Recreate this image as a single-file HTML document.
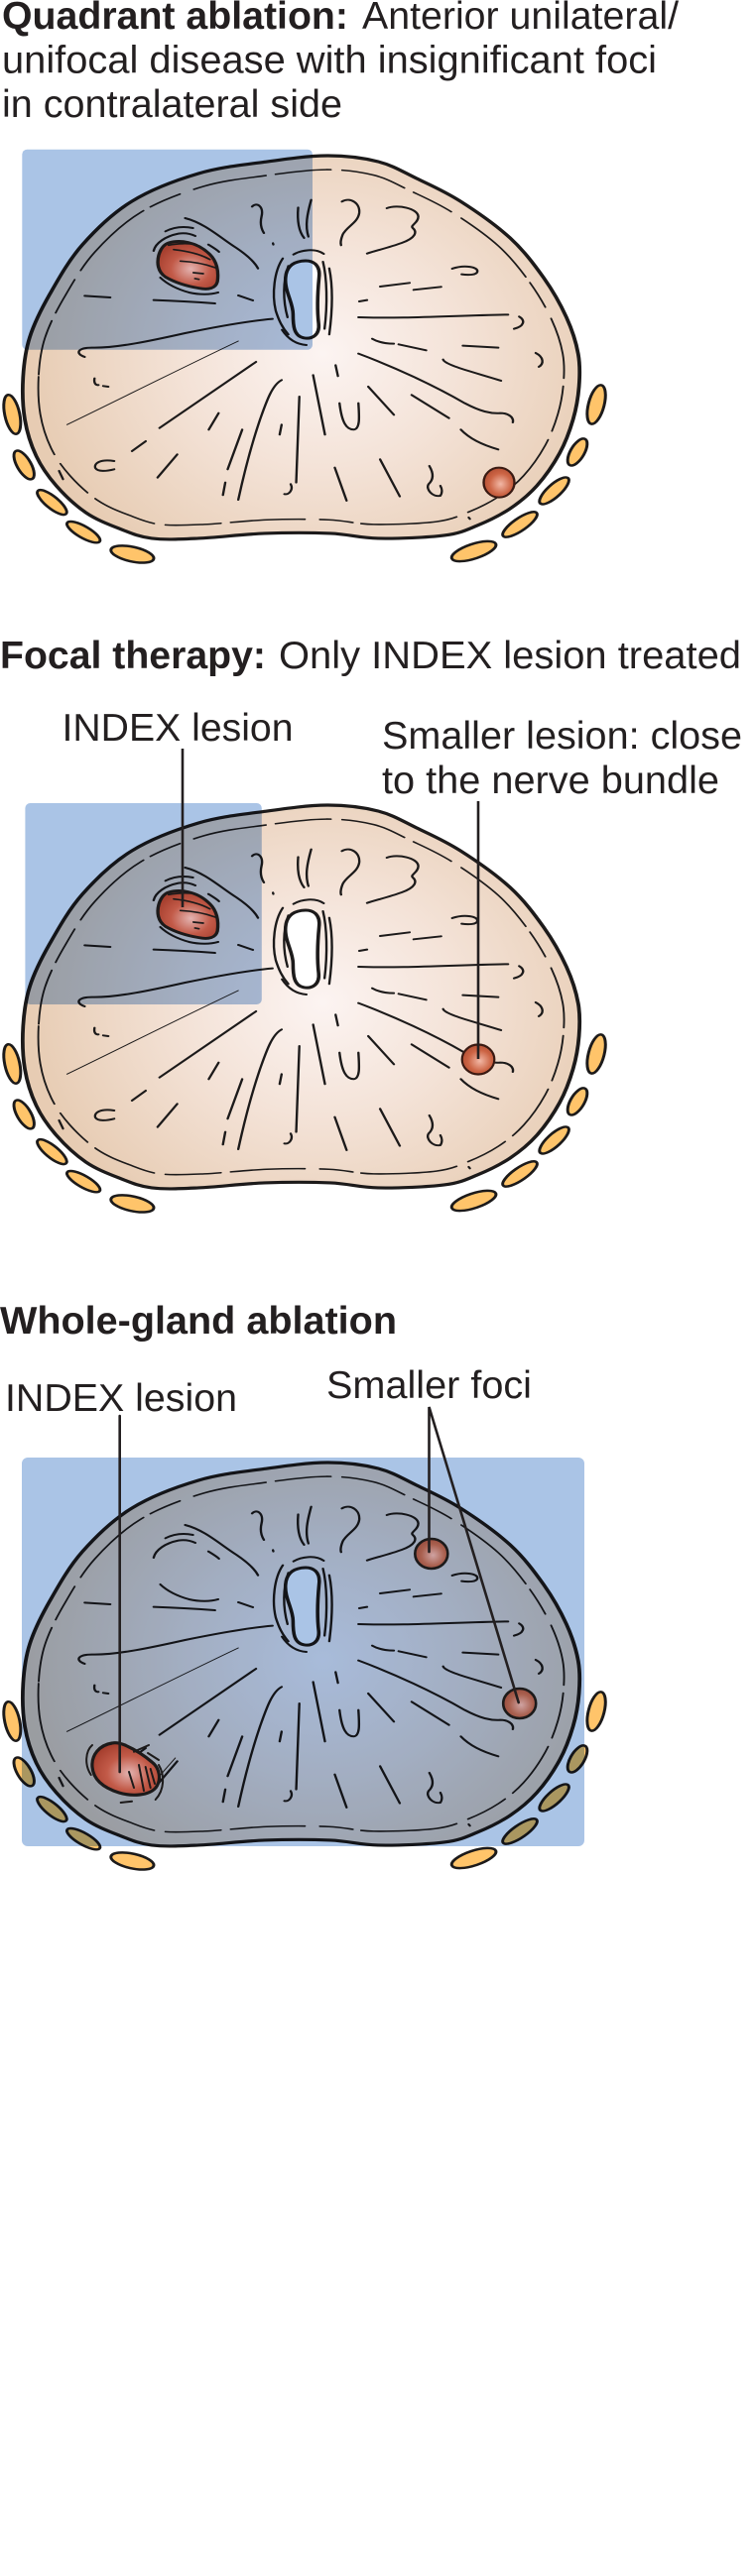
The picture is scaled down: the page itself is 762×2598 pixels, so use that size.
<!DOCTYPE html>
<html>
<head>
<meta charset="utf-8">
<style>
  html,body{margin:0;padding:0;background:#fff;}
  svg{display:block;}
  text{font-family:"Liberation Sans",Arial,sans-serif;fill:#231F20;}
</style>
</head>
<body>
<svg width="762" height="2598" viewBox="0 0 762 2598" xmlns="http://www.w3.org/2000/svg">
<defs>
  <radialGradient id="pg" gradientUnits="userSpaceOnUse" cx="820" cy="650" r="760">
    <stop offset="0" stop-color="#FCF4F2"/>
    <stop offset="0.45" stop-color="#F4E3D8"/>
    <stop offset="1" stop-color="#E7CCB3"/>
  </radialGradient>
  <radialGradient id="lg" cx="0.55" cy="0.58" r="0.6">
    <stop offset="0" stop-color="#E3B3B0"/>
    <stop offset="0.55" stop-color="#C25A48"/>
    <stop offset="1" stop-color="#A63F2E"/>
  </radialGradient>
  <radialGradient id="sg" cx="0.55" cy="0.55" r="0.6">
    <stop offset="0" stop-color="#F2B8A6"/>
    <stop offset="0.6" stop-color="#CC6444"/>
    <stop offset="1" stop-color="#B14E33"/>
  </radialGradient>
  <radialGradient id="fg" cx="0.55" cy="0.55" r="0.6">
    <stop offset="0" stop-color="#CFA3A2"/>
    <stop offset="0.6" stop-color="#A9604F"/>
    <stop offset="1" stop-color="#96493B"/>
  </radialGradient>

  <path id="outline" d="M58.7,720 C60.8,678.5 64.4,641.5 75.6,600 C86.8,558.5 103.8,517.5 126,471 C148.2,424.5 174.2,368 209,321 C243.8,274 285.8,225 335,189 C384.2,153 447.8,124.8 504,105 C560.2,85.2 617.5,79 672,70 C726.5,60.8 783,51.2 831,51 C879,50.8 922.2,57.5 960,69 C997.8,80.5 1023.2,100 1058,120 C1092.8,140 1129.5,159 1169,189 C1208.5,219 1259.8,261.5 1295,300 C1330.2,338.5 1356.2,380 1380,420 C1403.8,460 1423.3,501.5 1438,540 C1452.7,578.5 1462.7,616 1468,651 C1473.3,686 1472.2,717 1470,750 C1467.8,783 1463.2,815.5 1455,849 C1446.8,882.5 1436.3,917.5 1421,951 C1405.7,984.5 1384,1022 1363,1050 C1342,1078 1320.2,1099 1295,1119 C1269.8,1139 1239.8,1156.5 1212,1170 C1184.2,1183.5 1170,1193.5 1128,1200 C1086,1206.5 1008.2,1210 960,1209 C911.8,1208 887,1196.5 839,1194 C791,1191.5 727.8,1191.5 672,1194 C616.2,1196.5 551.8,1206.5 504,1209 C456.2,1211.5 418.7,1214 385,1209 C351.3,1204 329.8,1192 302,1179 C274.2,1166 244.5,1152.5 218,1131 C191.5,1109.5 164,1078.5 143,1050 C122,1021.5 105.3,993.5 92,960 C78.7,926.5 68.6,889 63,849 C57.4,809 56.6,761.5 58.7,720 Z"/>

  <g id="pro">
    <!-- lipid ovals -->
    <g fill="#FFC46A" stroke="#1C1A1A" stroke-width="7.5">
      <ellipse cx="31" cy="834" rx="19" ry="60" transform="rotate(-10 31 834)"/>
      <ellipse cx="61" cy="987" rx="18" ry="47" transform="rotate(-25 61 987)"/>
      <ellipse cx="132" cy="1100" rx="17" ry="50" transform="rotate(-45 132 1100)"/>
      <ellipse cx="212" cy="1190" rx="17" ry="50" transform="rotate(-55 212 1190)"/>
      <ellipse cx="336" cy="1257" rx="56" ry="22" transform="rotate(15 336 1257)"/>
      <ellipse cx="1514" cy="804" rx="20" ry="60" transform="rotate(12 1514 804)"/>
      <ellipse cx="1466" cy="948" rx="18" ry="44" transform="rotate(25 1466 948)"/>
      <ellipse cx="1407" cy="1065" rx="18" ry="52" transform="rotate(42 1407 1065)"/>
      <ellipse cx="1320" cy="1167" rx="18" ry="55" transform="rotate(50 1320 1167)"/>
      <ellipse cx="1203" cy="1248" rx="60" ry="22" transform="rotate(-22 1203 1248)"/>
    </g>
    <!-- gland body -->
    <use href="#outline" fill="url(#pg)" stroke="#1C1A1A" stroke-width="9.5"/>
    <!-- inner capsule line -->
    <g transform="translate(764,630) scale(0.944,0.927) translate(-764,-630)">
      <use href="#outline" fill="none" stroke="#1C1A1A" stroke-width="5" stroke-dasharray="180 28 120 34 260 22 90 40 200 26 150 30" stroke-linecap="round"/>
    </g>
    <!-- internal strokes -->
    <g fill="none" stroke="#1C1A1A" stroke-width="6" stroke-linecap="round">
      <path d="M640,205 C652,190 670,205 664,235 C660,255 662,270 670,285"/>
      <path d="M757,208 C754,250 760,282 772,300"/>
      <path d="M790,185 C780,228 774,262 783,296"/>
      <path d="M470,240 C520,255 560,300 600,330 C625,350 645,370 655,392"/>
      <path d="M529,320 C540,328 550,335 556,342"/>
      <path d="M390,339 C395,315 420,295 453,287 C470,284 485,288 496,294"/>
      <path d="M420,280 C440,268 465,264 490,270"/>
      <path d="M407,420 C425,440 450,455 480,465 C505,472 535,472 554,465"/>
      <path d="M390,488 C440,490 500,494 546,498"/>
      <path d="M215,475 L280,480"/>
      <path d="M605,474 L642,489"/>
      <path d="M215,660 C190,650 195,630 240,632 C300,632 380,612 470,588 C560,566 640,550 692,545"/>
      <path d="M868,190 C890,175 915,195 912,225 C908,255 880,265 870,290 C865,305 864,315 866,322"/>
      <path d="M982,210 C1010,198 1060,210 1062,235 C1062,255 1040,262 1048,270 C1060,282 1055,300 1020,315 C990,328 955,338 932,347"/>
      <path d="M1148,393 C1180,380 1215,388 1212,402 C1210,412 1190,413 1172,410"/>
      <path d="M965,447 L1040,436"/>
      <path d="M1050,457 L1120,448"/>
      <path d="M912,492 L932,488"/>
      <path d="M910,540 C1020,545 1150,535 1290,532"/>
      <path d="M1318,538 C1335,550 1330,568 1305,575"/>
      <path d="M945,605 C960,615 980,620 1000,620"/>
      <path d="M1012,622 L1082,640"/>
      <path d="M1175,626 L1265,632"/>
      <path d="M1360,648 C1380,660 1382,680 1368,690"/>
      <path d="M910,650 C1000,690 1100,745 1180,800 C1220,825 1245,832 1270,830 C1290,830 1305,842 1302,858"/>
      <path d="M1125,668 C1130,685 1200,705 1272,732"/>
      <path d="M1045,775 L1140,845"/>
      <path d="M1170,880 C1190,905 1220,925 1265,940"/>
      <path d="M935,750 L1000,835"/>
      <path d="M852,685 L858,718"/>
      <path d="M862,800 C868,860 880,880 898,880 C915,878 912,840 910,800"/>
      <path d="M850,995 L880,1095"/>
      <path d="M965,970 L1015,1082"/>
      <path d="M1090,990 C1100,1010 1102,1030 1088,1045 C1080,1060 1098,1085 1118,1080 C1124,1070 1122,1058 1118,1050"/>
      <path d="M605,612 C450,700 300,790 170,865" stroke-width="2.8"/>
      <path d="M650,675 L405,875"/>
      <path d="M555,830 L530,880"/>
      <path d="M715,730 C690,745 675,800 660,850 C640,920 620,1010 605,1092"/>
      <path d="M760,780 L752,1040"/>
      <path d="M795,715 L825,895"/>
      <path d="M615,880 L578,1000"/>
      <path d="M715,865 L710,895"/>
      <path d="M738,1045 C745,1060 735,1078 722,1075"/>
      <path d="M572,1040 L566,1078"/>
      <path d="M450,955 L400,1025"/>
      <path d="M370,915 L335,945"/>
      <path d="M290,975 C255,968 238,982 242,996 C248,1008 270,1006 290,1000"/>
      <path d="M240,725 C238,738 242,746 250,745"/>
      <path d="M262,748 L275,750"/>
      <path d="M150,1005 L160,1030"/>
      <path d="M1190,1146 L1193,1150"/>
      <path d="M693,316 L694,320"/>
    </g>
    <!-- urethra -->
    <g fill="none" stroke="#1C1A1A" stroke-width="6" stroke-linecap="round">
      <path d="M745,350 C765,336 800,330 822,348"/>
      <path d="M718,362 C696,400 690,470 700,520 C708,550 716,570 732,592"/>
      <path d="M732,385 C718,430 718,490 730,540"/>
      <path d="M820,372 C830,420 832,500 824,575"/>
      <path d="M836,392 C846,450 844,520 836,592"/>
      <path d="M716,578 C732,607 752,622 778,624"/>
    </g>
    <path d="M765,370 C797,364 814,384 810,420 C806,470 805,520 809,560 C812,594 792,608 770,602 C746,596 744,566 744,530 C744,495 722,460 725,420 C727,388 743,374 765,370 Z"
      fill="#fff" stroke="#1C1A1A" stroke-width="9"/>
  </g>

  <g id="idx">
    <path d="M428,315 C455,305 500,310 533,350 C550,370 556,400 552,432 C548,452 530,458 505,452 C470,445 440,432 420,418 C400,402 398,375 403,352 C408,332 416,320 428,315 Z"
      fill="url(#lg)" stroke="#1C1A1A" stroke-width="8.5"/>
    <g fill="none" stroke="#1C1A1A" stroke-width="5" stroke-linecap="round">
      <path d="M428,322 C450,316 480,316 499,320"/>
      <path d="M441,335 C480,340 510,350 533,365"/>
      <path d="M458,370 C490,372 520,378 547,390"/>
      <path d="M491,405 L516,408"/>
      <path d="M495,423 L505,425"/>
    </g>
  </g>
</defs>

<rect x="0" y="0" width="762" height="2598" fill="#fff"/>

<!-- ================= PANEL 1 ================= -->
<text x="2" y="29" font-size="39" font-weight="bold" textLength="349" lengthAdjust="spacingAndGlyphs">Quadrant ablation:</text>
<text x="365" y="29" font-size="39" textLength="319" lengthAdjust="spacingAndGlyphs">Anterior unilateral/</text>
<text x="2" y="73.5" font-size="39" textLength="660" lengthAdjust="spacingAndGlyphs">unifocal disease with insignificant foci</text>
<text x="2" y="118" font-size="39" textLength="343" lengthAdjust="spacingAndGlyphs">in contralateral side</text>

<use href="#pro" transform="translate(0,140) scale(0.397,0.3333)"/>
<rect x="22.3" y="150.7" width="292.7" height="202" rx="5" fill="#AAC4E6" style="mix-blend-mode:multiply"/>
<g transform="translate(0,140) scale(0.397,0.3333)">
  <use href="#idx"/>
  <ellipse cx="1267" cy="1040" rx="39" ry="45" fill="url(#sg)" stroke="#3A1A12" stroke-width="6"/>
</g>

<!-- ================= PANEL 2 ================= -->
<text x="0" y="674" font-size="39" font-weight="bold" textLength="268" lengthAdjust="spacingAndGlyphs">Focal therapy:</text>
<text x="281" y="674" font-size="39" textLength="466" lengthAdjust="spacingAndGlyphs">Only INDEX lesion treated</text>
<text x="62.5" y="747" font-size="39" textLength="233" lengthAdjust="spacingAndGlyphs">INDEX lesion</text>
<text x="385" y="755" font-size="39" textLength="363" lengthAdjust="spacingAndGlyphs">Smaller lesion: close</text>
<text x="385" y="800" font-size="39" textLength="340" lengthAdjust="spacingAndGlyphs">to the nerve bundle</text>

<use href="#pro" transform="translate(0,795) scale(0.397,0.3333)"/>
<rect x="25.4" y="810" width="238.4" height="203" rx="5" fill="#AAC4E6" style="mix-blend-mode:multiply"/>
<g transform="translate(0,795) scale(0.397,0.3333)">
  <use href="#idx"/>
</g>
<ellipse cx="482" cy="1068.5" rx="16.3" ry="15" fill="url(#sg)" stroke="#3A1A12" stroke-width="2.2"/>
<g stroke="#231F20" stroke-width="2.6" fill="none">
  <line x1="184" y1="755" x2="184" y2="915"/>
  <line x1="482" y1="808" x2="482" y2="1068"/>
</g>

<!-- ================= PANEL 3 ================= -->
<text x="0" y="1345" font-size="39" font-weight="bold" textLength="400" lengthAdjust="spacingAndGlyphs">Whole-gland ablation</text>
<text x="5" y="1423" font-size="39" textLength="234" lengthAdjust="spacingAndGlyphs">INDEX lesion</text>
<text x="329" y="1410" font-size="39" textLength="207" lengthAdjust="spacingAndGlyphs">Smaller foci</text>

<use href="#pro" transform="translate(0,1458) scale(0.397,0.3333)"/>
<rect x="22" y="1470" width="567" height="392" rx="6" fill="#AAC4E6" style="mix-blend-mode:multiply"/>

<!-- panel 3 index lesion -->
<path d="M113,1758 C100,1760 92,1770 93,1782 C94,1795 104,1803 120,1808 C133,1812 150,1811 157,1803 C163,1795 161,1783 153,1777 C145,1770 135,1764 126,1760 C121,1758 117,1757 113,1758 Z"
  fill="url(#lg)" stroke="#1C1A1A" stroke-width="3.2"/>
<g fill="none" stroke="#1C1A1A" stroke-width="2" stroke-linecap="round">
  <path d="M130,1787 L135,1803"/>
  <path d="M140,1780 L145,1806"/>
  <path d="M146.7,1782 L151.7,1803"/>
  <path d="M151.7,1784 L156,1799"/>
  <path d="M93,1760 C86,1766 85,1780 91.7,1790"/>
  <path d="M160,1780 C166,1790 166,1805 156.7,1815"/>
  <path d="M135,1766.7 L150,1760"/>
  <path d="M149,1768 L160,1775"/>
  <path d="M121.7,1818 L133,1816.7"/>
  <path d="M161.7,1790 L176.7,1773" stroke-width="1"/>
</g>
<ellipse cx="434.8" cy="1567" rx="16.5" ry="15" fill="url(#fg)" stroke="#1C1A1A" stroke-width="2.6"/>
<ellipse cx="523.7" cy="1718" rx="16.5" ry="15" fill="url(#fg)" stroke="#1C1A1A" stroke-width="2.6"/>
<g stroke="#231F20" stroke-width="2.6" fill="none" stroke-linecap="round">
  <line x1="120.7" y1="1428" x2="120.7" y2="1787"/>
  <polyline points="432.5,1565 432.5,1419 522.7,1717"/>
</g>
</svg>
</body>
</html>
